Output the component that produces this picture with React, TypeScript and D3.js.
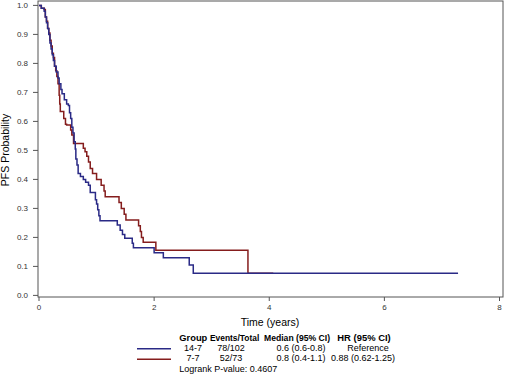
import React from "react";
import * as d3 from "d3";

// Kaplan-Meier step points: [time (years), survival after drop]
const blueTimes = [0, 0.04, 0.09, 0.11, 0.13, 0.15, 0.17, 0.19, 0.21, 0.23, 0.25, 0.27, 0.30, 0.33, 0.35, 0.38, 0.40, 0.44, 0.48, 0.51, 0.53, 0.55, 0.57, 0.59, 0.61, 0.63, 0.64, 0.66, 0.68, 0.72, 0.77, 0.81, 0.86, 0.89, 0.98, 1.00, 1.02, 1.04, 1.06, 1.36, 1.41, 1.45, 1.49, 1.62, 1.64, 2.00, 2.16, 2.61, 2.68, 7.28];
const blueSurv = [1.0, 0.99, 0.98, 0.96, 0.94, 0.92, 0.90, 0.87, 0.85, 0.83, 0.81, 0.79, 0.77, 0.75, 0.73, 0.71, 0.695, 0.675, 0.66, 0.655, 0.63, 0.61, 0.58, 0.56, 0.53, 0.505, 0.47, 0.45, 0.42, 0.41, 0.40, 0.39, 0.38, 0.355, 0.33, 0.315, 0.295, 0.275, 0.257, 0.243, 0.225, 0.21, 0.197, 0.18, 0.164, 0.147, 0.13, 0.105, 0.076, 0.076];

const redTimes = [0, 0.04, 0.09, 0.11, 0.13, 0.15, 0.17, 0.19, 0.21, 0.23, 0.25, 0.27, 0.29, 0.31, 0.33, 0.35, 0.36, 0.37, 0.43, 0.46, 0.48, 0.55, 0.57, 0.60, 0.77, 0.80, 0.83, 0.86, 0.89, 0.93, 1.00, 1.08, 1.13, 1.15, 1.39, 1.43, 1.48, 1.51, 1.73, 1.76, 1.78, 1.81, 2.03, 3.63, 4.07];
const redSurv = [1.0, 0.99, 0.986, 0.96, 0.945, 0.92, 0.905, 0.88, 0.86, 0.835, 0.82, 0.79, 0.775, 0.755, 0.73, 0.69, 0.66, 0.634, 0.61, 0.59, 0.588, 0.57, 0.553, 0.524, 0.507, 0.495, 0.48, 0.46, 0.438, 0.42, 0.40, 0.38, 0.36, 0.34, 0.32, 0.30, 0.28, 0.26, 0.24, 0.22, 0.20, 0.183, 0.156, 0.076, 0.076];

const xTicks = [0, 2, 4, 6, 8];
const yTicks = [0, 0.1, 0.2, 0.3, 0.4, 0.5, 0.6, 0.7, 0.8, 0.9, 1.0];

const legendHeaders = ["Group", "Events/Total", "Median (95% CI)", "HR (95% CI)"];
const legendGroups = ["14-7", "7-7"];
const legendEvents = ["78/102", "52/73"];
const legendMedians = ["0.6 (0.6-0.8)", "0.8 (0.4-1.1)"];
const legendHR = ["Reference", "0.88 (0.62-1.25)"];
const pValueText = "Logrank P-value: 0.4607";

const BLUE = "#2a2a86";
const RED = "#851d1d";

export default function App() {
  const W = 506, H = 375;
  const x = d3.scaleLinear().domain([0, 8]).range([39, 499.5]);
  const y = d3.scaleLinear().domain([0, 1]).range([295.4, 5.4]);
  const line = d3
    .line<[number, number]>()
    .x((d) => x(d[0]))
    .y((d) => y(d[1]))
    .curve(d3.curveStepAfter);
  const blueData: [number, number][] = blueTimes.map((t, i) => [t, blueSurv[i]]);
  const redData: [number, number][] = redTimes.map((t, i) => [t, redSurv[i]]);

  const frameL = 38, frameR = 503, frameT = 1, frameB = 297;
  const font = "Liberation Sans, Arial, sans-serif";
  const headX = [179.3, 210, 264, 337.3];
  const headW = [28, 49.3, 66, 53.4];
  const valX = [[193, 231, 301, 368], [193, 231, 301, 363]];

  return (
    <svg
      width={W}
      height={H}
      style={{ position: "absolute", left: 0, top: 0, background: "#fff" }}
      fontFamily={font}
    >
      <rect x={0} y={0} width={W} height={H} fill="#fff" />
      <path d={line(redData) || ""} fill="none" stroke={RED} strokeWidth={1.5} />
      <path d={line(blueData) || ""} fill="none" stroke={BLUE} strokeWidth={1.5} />
      <rect
        x={frameL}
        y={frameT}
        width={frameR - frameL}
        height={frameB - frameT}
        fill="none"
        stroke="#555"
        strokeWidth={1}
      />
      {yTicks.map((t) => (
        <g key={"y" + t}>
          <line x1={33} x2={frameL} y1={y(t)} y2={y(t)} stroke="#555" />
          <text x={28} y={y(t) + 3} fontSize={8} textAnchor="end" fill="#333">
            {t.toFixed(1)}
          </text>
        </g>
      ))}
      {xTicks.map((t) => (
        <g key={"x" + t}>
          <line x1={x(t)} x2={x(t)} y1={frameB} y2={frameB + 4} stroke="#555" />
          <text x={x(t)} y={310} fontSize={8} textAnchor="middle" fill="#333">
            {t}
          </text>
        </g>
      ))}
      <text x={270} y={326} fontSize={10.5} textAnchor="middle" fill="#000">
        Time (years)
      </text>
      <text
        transform={`translate(9,150) rotate(-90)`}
        fontSize={10.5}
        textAnchor="middle"
        fill="#000"
      >
        PFS Probability
      </text>
      {/* legend */}
      {legendHeaders.map((h, i) => (
        <text
          key={h}
          x={headX[i]}
          y={340.5}
          fontSize={9}
          fontWeight="bold"
          textLength={headW[i]}
          lengthAdjust="spacingAndGlyphs"
          fill="#000"
        >
          {h}
        </text>
      ))}
      {legendGroups.map((g, i) => {
        const by = 350.7 + i * 10.5;
        const cx = valX[i];
        return (
          <g key={g}>
            <line
              x1={137}
              x2={171}
              y1={by - 2}
              y2={by - 2}
              stroke={i === 0 ? BLUE : RED}
              strokeWidth={1.5}
            />
            <text x={cx[0]} y={by} fontSize={9} textAnchor="middle" fill="#000">
              {g}
            </text>
            <text x={cx[1]} y={by} fontSize={9} textAnchor="middle" fill="#000">
              {legendEvents[i]}
            </text>
            <text x={cx[2]} y={by} fontSize={9} textAnchor="middle" fill="#000">
              {legendMedians[i]}
            </text>
            <text x={cx[3]} y={by} fontSize={9} textAnchor="middle" fill="#000">
              {legendHR[i]}
            </text>
          </g>
        );
      })}
      <text x={179.3} y={371.8} fontSize={9} fill="#000">
        {pValueText}
      </text>
    </svg>
  );
}
